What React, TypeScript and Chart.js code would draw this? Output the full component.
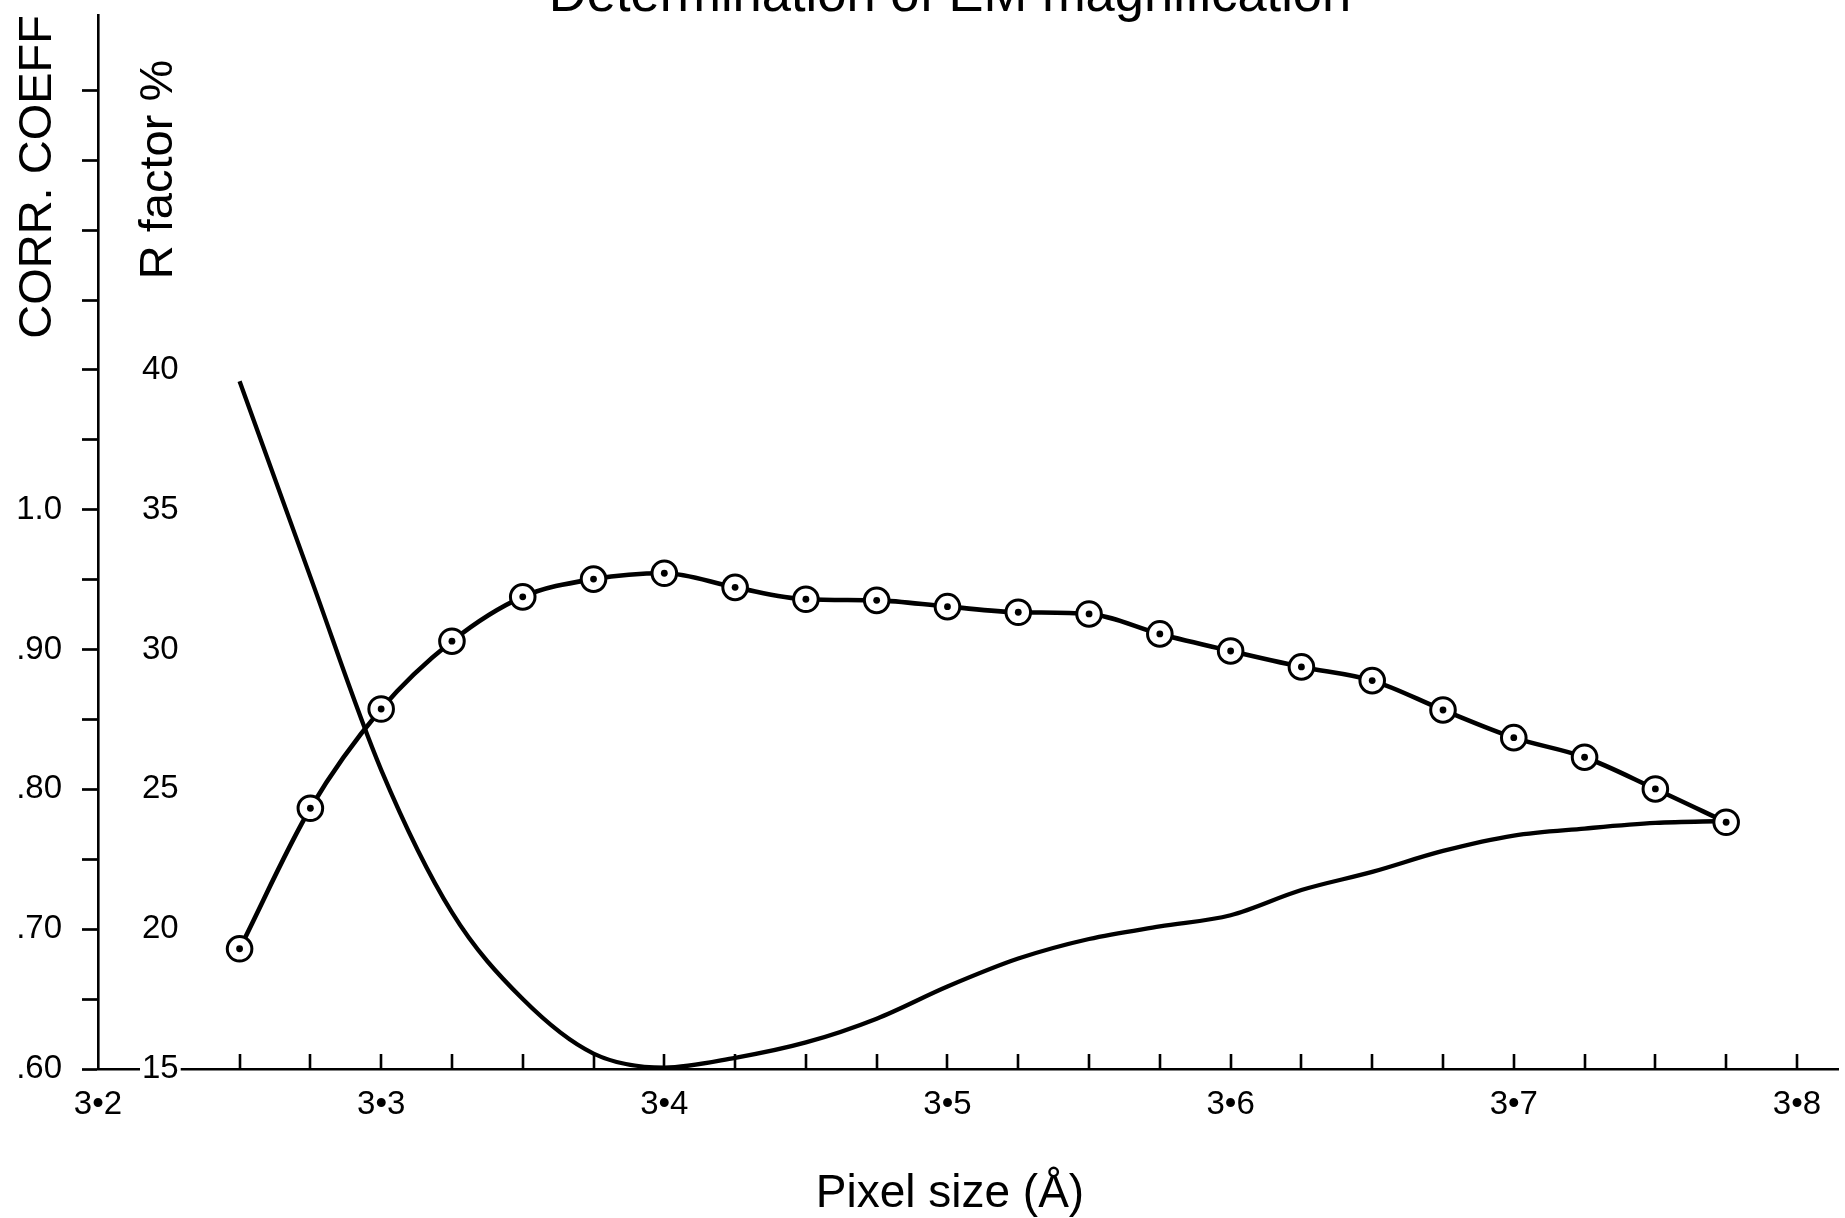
import React, { useEffect, useRef } from 'react';
import { Chart, registerables } from 'chart.js';

Chart.register(...registerables);

// ---- data ----
const pixelSize = [3.25, 3.275, 3.3, 3.325, 3.35, 3.375, 3.4, 3.425, 3.45, 3.475, 3.5, 3.525, 3.55, 3.575, 3.6, 3.625, 3.65, 3.675, 3.7, 3.725, 3.75, 3.775];
const corrCoeff = [0.686, 0.7865, 0.8575, 0.906, 0.9377, 0.9504, 0.9546, 0.9445, 0.936, 0.9352, 0.9307, 0.9267, 0.9255, 0.9112, 0.899, 0.8876, 0.8778, 0.8568, 0.837, 0.823, 0.8003, 0.7765];
const rFactor = [39.6, 32.6, 25.7, 20.6, 17.5, 15.55, 15.05, 15.4, 15.95, 16.8, 17.95, 18.95, 19.65, 20.1, 20.5, 21.4, 22.05, 22.8, 23.35, 23.6, 23.8, 23.87];

// ---- ticks ----
const xTickValues = [3.2, 3.25, 3.275, 3.3, 3.325, 3.35, 3.375, 3.4, 3.425, 3.45, 3.475, 3.5, 3.525, 3.55, 3.575, 3.6, 3.625, 3.65, 3.675, 3.7, 3.725, 3.75, 3.775, 3.8];
const xTickLabels = ['3•2', '3•3', '3•4', '3•5', '3•6', '3•7', '3•8'];
const corrTickValues = [0.6, 0.65, 0.7, 0.75, 0.8, 0.85, 0.9, 0.95, 1.0, 1.05, 1.1, 1.15, 1.2, 1.25, 1.3];
const corrTickLabels = ['.60', '.70', '.80', '.90', '1.0'];
const rTickLabels = ['15', '20', '25', '30', '35', '40'];

const TITLE = 'Determination of EM magnification';
const X_TITLE = 'Pixel size (Å)';
const Y_TITLE = 'CORR. COEFF';
const R_TITLE = 'R factor %';

const FONT = '"Liberation Sans", Arial, Helvetica, sans-serif';
const INK = '#000';

const near = (a: number, b: number) => Math.abs(a - b) < 1e-6;
const xLabelFor = (v: number) => {
  const l = xTickLabels.find((s) => near(parseFloat(s.replace('•', '.')), v));
  return l ?? '';
};
const corrLabelFor = (v: number) => {
  const l = corrTickLabels.find((s) => near(parseFloat(s), v));
  return l ?? '';
};

const innerTicksPlugin = {
  id: 'innerTicks',
  beforeDatasetsDraw(chart: any) {
    const x = chart.scales.x;
    const ctx = chart.ctx;
    const bottom = chart.chartArea.bottom;
    ctx.save();
    ctx.strokeStyle = INK;
    ctx.lineWidth = 2.6;
    x.ticks.forEach((t: any) => {
      if (t.value <= x.min + 1e-9) return;
      const px = Math.round(x.getPixelForValue(t.value));
      ctx.beginPath();
      ctx.moveTo(px, bottom);
      ctx.lineTo(px, bottom - 15);
      ctx.stroke();
    });
    ctx.restore();
  },
};

const rTitlePlugin = {
  id: 'rTitle',
  afterDraw(chart: any) {
    const ctx = chart.ctx;
    const { left, top } = chart.chartArea;
    ctx.save();
    ctx.fillStyle = INK;
    ctx.font = `47px ${FONT}`;
    ctx.translate(left + 74, top + 154.5);
    ctx.rotate(-Math.PI / 2);
    ctx.textAlign = 'center';
    ctx.textBaseline = 'alphabetic';
    ctx.fillText(R_TITLE, 0, 0);
    ctx.restore();
  },
};

export default function App() {
  const ref = useRef<HTMLCanvasElement | null>(null);

  useEffect(() => {
    if (!ref.current) return;
    const corrPts = pixelSize.map((x, i) => ({ x, y: corrCoeff[i] }));
    const rPts = pixelSize.map((x, i) => ({ x, y: rFactor[i] }));

    const chart = new Chart(ref.current, {
      type: 'line',
      data: {
        datasets: [
          {
            label: 'centre dots',
            data: corrPts,
            xAxisID: 'x',
            yAxisID: 'y',
            showLine: false,
            pointRadius: 3.4,
            pointBackgroundColor: INK,
            pointBorderWidth: 0,
          },
          {
            label: 'Corr. coeff',
            data: corrPts,
            xAxisID: 'x',
            yAxisID: 'y',
            borderColor: INK,
            borderWidth: 4.6,
            cubicInterpolationMode: 'monotone',
            pointRadius: 12.3,
            pointBackgroundColor: '#fff',
            pointBorderColor: INK,
            pointBorderWidth: 3,
            fill: false,
          },
          {
            label: 'R factor',
            data: rPts,
            xAxisID: 'x',
            yAxisID: 'yR',
            borderColor: INK,
            borderWidth: 4.3,
            cubicInterpolationMode: 'monotone',
            pointRadius: 0,
            fill: false,
          },
        ],
      },
      options: {
        animation: false,
        responsive: false,
        maintainAspectRatio: false,
        devicePixelRatio: 1,
        layout: { padding: { left: 0, top: 0, right: 0, bottom: 0 } },
        plugins: {
          legend: { display: false },
          tooltip: { enabled: false },
          title: {
            display: true,
            text: TITLE,
            color: INK,
            font: { family: FONT, size: 52.5, weight: 'normal', lineHeight: 1 },
            padding: { top: 0, bottom: -7.5 },
          },
          subtitle: {
            display: true,
            position: 'bottom',
            text: X_TITLE,
            color: INK,
            font: { family: FONT, size: 46, weight: 'normal', lineHeight: 1.2 },
            padding: { top: 0, bottom: 0 },
          },
        },
        scales: {
          x: {
            type: 'linear',
            position: 'bottom',
            min: 3.2,
            max: 3.8145,
            afterBuildTicks: (s: any) => {
              s.ticks = xTickValues.map((v) => ({ value: v }));
            },
            afterFit: (s: any) => {
              s.height = 97.8;
              s.paddingLeft = 0;
              s.paddingRight = 0;
            },
            ticks: {
              autoSkip: false,
              maxRotation: 0,
              minRotation: 0,
              padding: 16,
              color: INK,
              font: { family: FONT, size: 33 },
              callback: (v: any) => xLabelFor(Number(v)),
            },
            grid: { display: false, drawOnChartArea: false, drawTicks: false },
            border: { display: true, color: INK, width: 2.6 },
            title: { display: false, text: X_TITLE },
          },
          y: {
            type: 'linear',
            position: 'left',
            weight: 1,
            min: 0.6,
            max: 1.3539,
            afterBuildTicks: (s: any) => {
              s.ticks = corrTickValues.map((v) => ({ value: v }));
            },
            afterFit: (s: any) => {
              s.width = 98;
              s.paddingTop = 0;
              s.paddingBottom = 0;
            },
            ticks: {
              autoSkip: false,
              padding: 20,
              color: INK,
              font: { family: FONT, size: 33 },
              callback: (v: any) => corrLabelFor(Number(v)),
            },
            grid: {
              display: true,
              drawOnChartArea: false,
              drawTicks: true,
              tickLength: 16,
              tickWidth: 2.7,
              tickColor: INK,
              color: INK,
            },
            border: { display: true, color: INK, width: 2.6 },
            title: {
              display: true,
              text: Y_TITLE,
              align: 'end',
              color: INK,
              font: { family: FONT, size: 47, lineHeight: 1.2 },
              padding: { top: 10, bottom: 0 },
            },
          },
          yR: {
            type: 'linear',
            position: 'left',
            weight: 0,
            min: 15,
            max: 52.695,
            afterBuildTicks: (s: any) => {
              s.ticks = rTickLabels.map((l) => ({ value: Number(l) }));
            },
            afterFit: (s: any) => {
              s.width = 0;
              s.paddingTop = 0;
              s.paddingBottom = 0;
            },
            ticks: {
              autoSkip: false,
              mirror: true,
              padding: 44,
              z: 1,
              showLabelBackdrop: true,
              backdropColor: '#fff',
              backdropPadding: { top: 0, bottom: 0, left: 2, right: 2 },
              color: INK,
              font: { family: FONT, size: 33 },
              callback: (v: any) => String(v),
            },
            grid: { display: false, drawOnChartArea: false, drawTicks: false },
            border: { display: false },
          },
          // empty right-hand margin box (keeps the figure titles centred like the original)
          margin: {
            type: 'linear',
            axis: 'y',
            position: 'right',
            display: true,
            afterFit: (s: any) => {
              s.width = 62;
              s.paddingTop = 0;
              s.paddingBottom = 0;
            },
            ticks: { display: false },
            grid: { display: false, drawOnChartArea: false, drawTicks: false },
            border: { display: false },
          },
        },
      } as any,
      plugins: [innerTicksPlugin, rTitlePlugin],
    });
    return () => chart.destroy();
  }, []);

  return (
    <div
      style={{
        position: 'fixed',
        left: 0,
        top: 0,
        width: 1845,
        height: 1218,
        overflow: 'hidden',
        background: '#fff',
      }}
    >
      <canvas
        ref={ref}
        width={1900}
        height={1252}
        style={{ position: 'absolute', left: 0, top: -30, width: 1900, height: 1252 }}
      />
    </div>
  );
}
